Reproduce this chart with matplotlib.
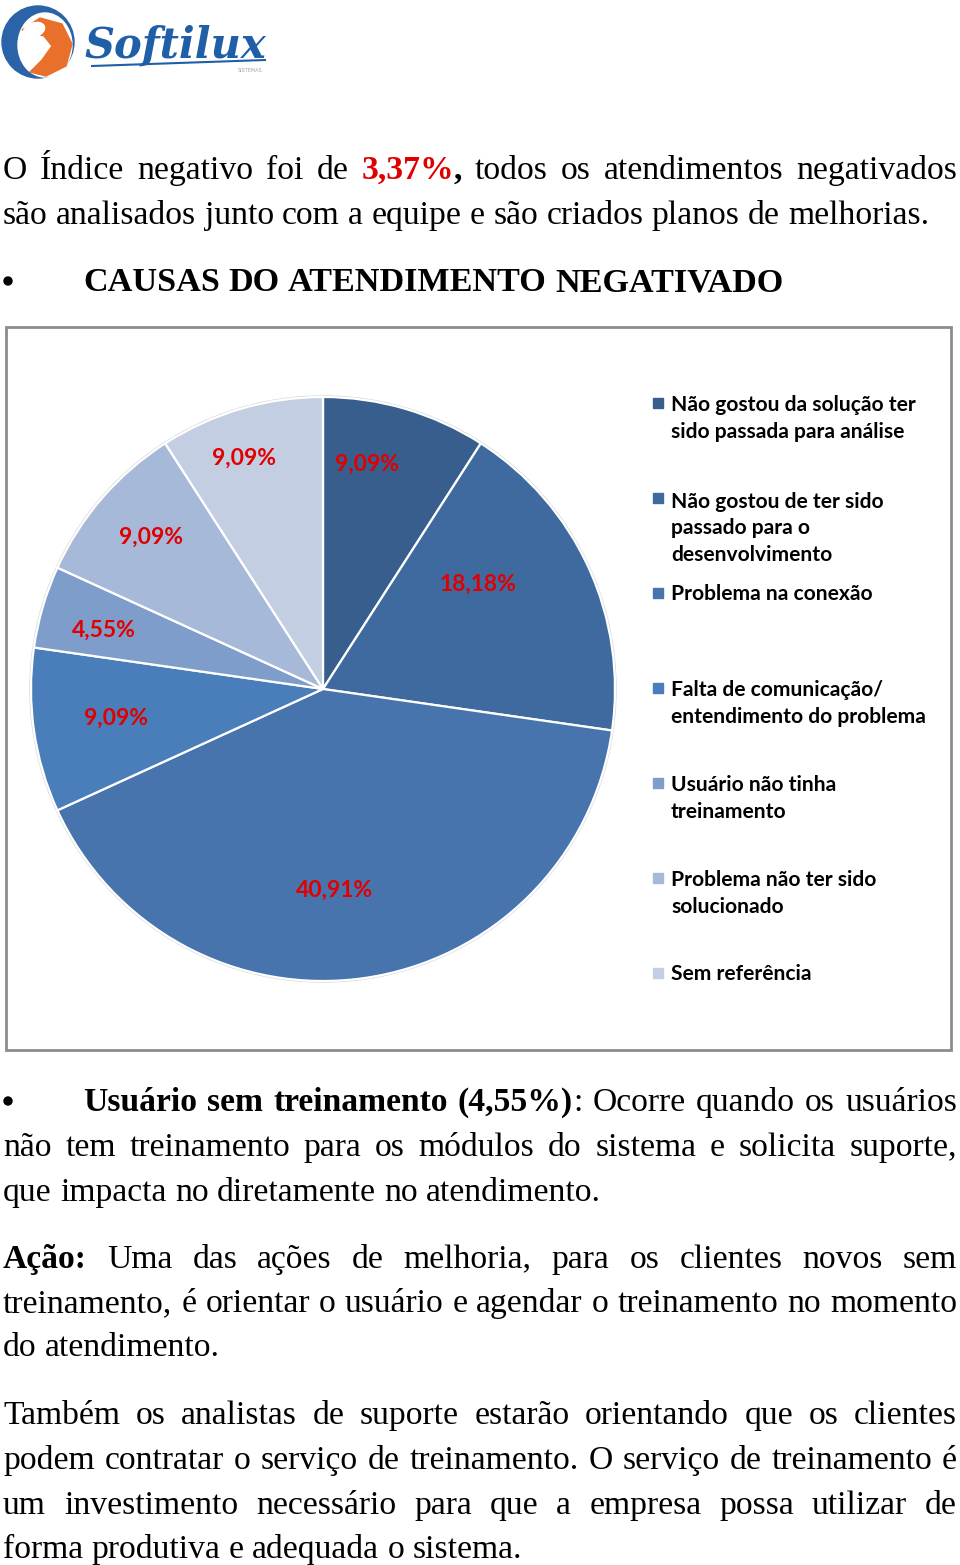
import matplotlib.pyplot as plt
from matplotlib.patches import Rectangle, Circle, Ellipse, Polygon

# chart data
categories = [
    "Não gostou da solução ter\nsido passada para análise",
    "Não gostou de ter sido\npassado para o\ndesenvolvimento",
    "Problema na conexão",
    "Falta de comunicação/\nentendimento do problema",
    "Usuário não tinha\ntreinamento",
    "Problema não ter sido\nsolucionado",
    "Sem referência",
]
shares = [9.09, 18.18, 40.91, 9.09, 4.55, 9.09, 9.09]
slice_colors = ["#375E8D", "#3F6A9F", "#4874AE", "#4A7EBB", "#7E9DCA", "#A7B9D8", "#C3CEE3"]
# where Excel put the data labels (pie units)
label_xy = [(0.15, 0.77), (0.53, 0.36), (0.04, -0.69), (-0.71, -0.10),
            (-0.75, 0.20), (-0.59, 0.52), (-0.27, 0.79)]

W, H = 960, 1565
BODY = 24.2
RED = "#E00000"
SERIF = "Liberation Serif"
SANS = "Lato"

fig = plt.figure(figsize=(W / 100, H / 100), dpi=100)
page = fig.add_axes([0, 0, 1, 1])
page.set_xlim(0, W)
page.set_ylim(H, 0)
page.axis("off")
renderer = fig.canvas.get_renderer()


def parse(markup):
    # '*' toggles bold, '#' toggles red; spaces split words
    words, word, buf = [], [], ""
    bold = red = False
    for ch in markup + " ":
        if ch in "*# ":
            if buf:
                word.append((buf, bold, red))
                buf = ""
            if ch == "*":
                bold = not bold
            elif ch == "#":
                red = not red
            elif word:
                words.append(word)
                word = []
        else:
            buf += ch
    return words


def draw_line(y, markup, x0=3, x1=957, justify=True, size=BODY):
    words = parse(markup)
    placed, widths = [], []
    for word in words:
        pieces = []
        for txt, bold, red in word:
            t = page.text(0, y, txt, fontsize=size, family=SERIF,
                          weight="bold" if bold else "normal",
                          color=RED if red else "black", va="baseline", ha="left")
            pieces.append((t, t.get_window_extent(renderer).width))
        placed.append(pieces)
        widths.append(sum(w for _, w in pieces))
    if justify and len(words) > 1:
        gap = (x1 - x0 - sum(widths)) / (len(words) - 1)
    else:
        gap = size * 100 / 72 * 0.25
    x = x0
    for pieces in placed:
        for t, w in pieces:
            t.set_x(x)
            x += w
        x += gap


def bullet(y):
    page.add_patch(Circle((8, y - 10), 4, color="black"))


# logo
page.add_patch(Circle((38, 42), 36, color="#2B63A8"))
page.add_patch(Ellipse((45, 45), 54, 64, color="white"))
page.add_patch(Polygon([(22, 30), (40, 18), (62, 24), (72, 44), (66, 66), (46, 76),
                        (30, 72), (42, 60), (52, 46), (44, 36)], color="#E8702A"))
page.add_patch(Ellipse((34, 30), 22, 14, angle=-20, color="white"))
page.text(84, 58, "Softilux", fontsize=30, family="DejaVu Serif", style="italic",
          weight="bold", color="#1E5FA8", va="baseline")
page.plot([92, 265], [66, 60], color="#1E5FA8", lw=1.5)
page.text(250, 72, "SISTEMAS", fontsize=3.5, color="#9aa4b0", ha="center")

# intro text
draw_line(179, "O Índice negativo foi de *#3,37%#,* todos os atendimentos negativados")
draw_line(224, "são analisados junto com a equipe e são criados planos de melhorias.", justify=False)
bullet(291)
draw_line(291, "*CAUSAS DO ATENDIMENTO NEGATIVADO*", x0=83, justify=False, size=24.6)

# chart frame
page.add_patch(Rectangle((6, 327), 945, 723, fill=False, edgecolor="#8C8C8C", lw=2))

# pie
cx, cy, r = 323, 689, 292
ax = fig.add_axes([(cx - r) / W, 1 - (cy + r) / H, 2 * r / W, 2 * r / H])
ax.pie([sum(shares)], colors=["white"], radius=1.0,
       wedgeprops=dict(edgecolor="#D9D9D9", linewidth=2.5, clip_on=False))
ax.pie(shares, colors=slice_colors, startangle=90, counterclock=False,
       radius=1, wedgeprops=dict(edgecolor="white", linewidth=1.6, clip_on=False))
for (lx, ly), v in zip(label_xy, shares):
    ax.text(lx, ly, f"{v:.2f}%".replace(".", ","), color=RED, fontsize=16.5,
            family=SANS, weight="bold", ha="center", va="center")
ax.set_xlim(-1, 1)
ax.set_ylim(-1, 1)
ax.axis("off")

# legend
for i, (name, col) in enumerate(zip(categories, slice_colors)):
    yc = 403 + 95 * i
    n_lines = name.count("\n")
    page.add_patch(Rectangle((653, yc - 5), 10, 10, color=col))
    page.text(671, yc + 7 + 28 * n_lines, name, fontsize=15.1, family=SANS, weight="bold",
              color="black", va="baseline", ha="left", linespacing=1.42)

# text after the chart
bullet(1111)
draw_line(1111, "*Usuário sem treinamento (4,55%)*: Ocorre quando os usuários", x0=83)
draw_line(1156, "não tem treinamento para os módulos do sistema e solicita suporte,")
draw_line(1201, "que impacta no diretamente no atendimento.", justify=False)

draw_line(1268, "*Ação:* Uma das ações de melhoria, para os clientes novos sem")
draw_line(1312, "treinamento, é orientar o usuário e agendar o treinamento no momento")
draw_line(1356, "do atendimento.", justify=False)

draw_line(1424, "Também os analistas de suporte estarão orientando que os clientes")
draw_line(1469, "podem contratar o serviço de treinamento. O serviço de treinamento é")
draw_line(1514, "um investimento necessário para que a empresa possa utilizar de")
draw_line(1558, "forma produtiva e adequada o sistema.", justify=False)

fig.savefig("out.png", dpi=100)
